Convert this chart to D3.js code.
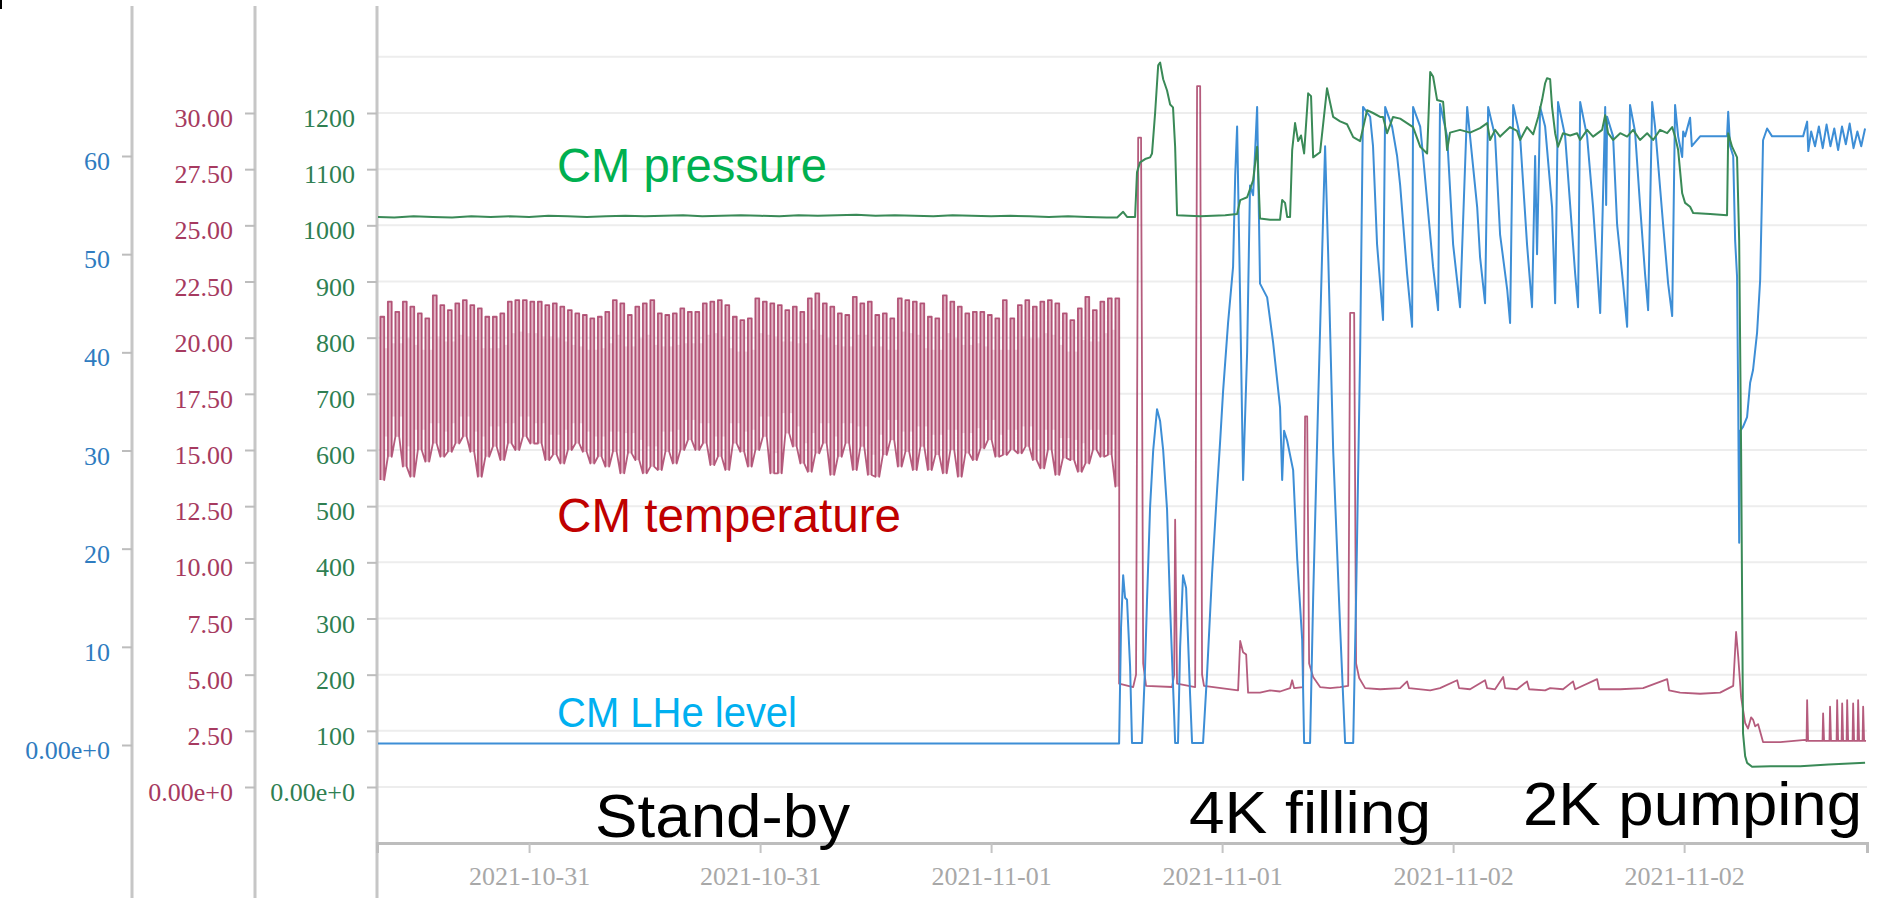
<!DOCTYPE html>
<html><head><meta charset="utf-8">
<script src="https://cdn.jsdelivr.net/npm/d3@7"></script>
<style>html,body{margin:0;padding:0;background:#fff;overflow:hidden}</style>
</head><body>
<svg id="chart" width="1878" height="898"></svg>
<script>
// ---------------- DATA ----------------
// times are hours after 2021-10-30 16:00
const timeOrigin = new Date(2021, 9, 30, 16, 0, 0);
const timeDomainHours = [0.1, 77.5];
const xTickLabels = ["2021-10-31", "2021-10-31", "2021-11-01", "2021-11-01", "2021-11-02", "2021-11-02"];

const pressureTicks = [0, 100, 200, 300, 400, 500, 600, 700, 800, 900, 1000, 1100, 1200];
const temperatureTicks = [0, 2.5, 5, 7.5, 10, 12.5, 15, 17.5, 20, 22.5, 25, 27.5, 30];
const levelTicks = [0, 10, 20, 30, 40, 50, 60];

// stand-by temperature cycles (one cycle every ~23 min)
const standbyCycleStart = 0.275;
const standbyCycleStep = 0.3896;
const tempStandbyHigh = [20.93, 21.60, 21.15, 21.60, 21.38, 21.08, 20.86, 21.88, 21.45, 21.23, 21.53, 21.67, 21.45, 21.30, 20.93, 20.93, 21.08, 21.60, 21.67, 21.67, 21.60, 21.60, 21.45, 21.53, 21.38, 21.23, 21.08, 21.01, 20.86, 20.93, 21.15, 21.67, 21.53, 21.01, 21.38, 21.53, 21.67, 21.08, 21.01, 21.08, 21.30, 21.15, 21.15, 21.53, 21.60, 21.67, 21.45, 20.93, 20.78, 20.86, 21.75, 21.60, 21.53,
  21.45, 21.23, 21.38, 21.15, 21.75, 21.97, 21.53, 21.38, 21.08, 21.01, 21.82, 21.53, 21.60, 21.01, 21.08, 20.86, 21.75, 21.67, 21.60, 21.53, 20.93, 20.86, 21.88, 21.60, 21.38, 21.08, 21.15, 21.15, 21.01, 20.86, 21.67, 20.86, 21.45, 21.67, 21.38, 21.60, 21.67, 21.53, 21.08, 20.78, 21.30, 21.82, 21.23, 21.60, 21.75, 21.75];
const tempStandbyLow = [13.66, 14.70, 15.59, 14.26, 13.81, 15.00, 14.48, 15.29, 14.70, 14.92, 15.29, 15.59, 14.92, 13.81, 14.70, 15.15, 14.55, 15.29, 15.00, 15.59, 15.29, 15.29, 14.55, 14.78, 14.40, 15.00, 15.29, 14.92, 14.40, 14.70, 14.26, 14.92, 13.96, 14.85, 14.55, 13.96, 14.26, 14.11, 14.92, 14.40, 15.00, 15.44, 15.00, 15.29, 14.33, 14.70, 14.11, 15.29, 14.92, 14.26, 15.00, 15.59, 13.96,
  13.96, 15.74, 15.15, 14.40, 14.03, 14.85, 15.29, 13.89, 14.70, 15.29, 14.11, 15.15, 13.89, 13.81, 14.78, 15.44, 14.26, 14.92, 14.11, 15.15, 14.11, 14.78, 13.96, 15.00, 13.81, 14.85, 14.55, 15.07, 15.44, 14.70, 14.78, 15.00, 14.85, 15.15, 14.55, 14.18, 15.00, 13.89, 14.63, 14.55, 14.03, 14.40, 15.00, 14.70, 14.78, 13.37];

// temperature after stand-by [hour, K]
const tempAfter = [[38.65,4.6],[39.38,4.45],[39.53,5.0],[39.64,28.9],[39.79,28.9],[39.90,5.5],[40.05,4.5],[41.40,4.45],[41.51,5.0],[41.56,11.9],[41.66,4.6],[42.60,4.45],[42.70,31.2],[42.86,31.2],[42.96,5.0],[43.06,4.5],[44.83,4.3],[44.94,6.5],[45.09,6.0],[45.25,5.9],[45.35,4.2],[45.97,4.2],[46.49,4.3],[47.01,4.25],[47.53,4.4],[47.64,4.75],[47.74,4.4],[48.21,4.45],[48.31,16.5],[48.42,16.5],[48.52,5.5],[48.73,4.9],[49.09,4.45],[49.61,4.4],[50.13,4.45],[50.55,4.5],[50.65,21.1],[50.86,21.1],[50.96,5.5],[51.12,4.85],[51.43,4.4],[52.21,4.35],[53.25,4.4],[53.61,4.7],[53.71,4.4],[54.81,4.3],[55.32,4.4],[56.21,4.75],[56.31,4.4],[56.88,4.35],[57.66,4.75],[57.77,4.4],[58.18,4.35],[58.60,4.9],[58.70,4.4],[59.32,4.35],[59.84,4.7],[59.95,4.35],[60.78,4.3],[61.04,4.4],[61.71,4.35],[62.23,4.7],[62.34,4.35],[63.48,4.8],[63.59,4.35],[64.68,4.35],[65.87,4.4],[67.12,4.8],[67.22,4.3],[67.79,4.2],[68.83,4.15],[69.87,4.2],[70.55,4.5],[70.70,6.9],[70.81,5.8],[70.96,4.0],[71.17,2.85],[71.32,2.6],[71.48,3.1],[71.58,3.0],[71.69,2.7],[71.84,2.8],[72.10,2.0],[72.99,2.0],[74.29,2.1],[74.36,2.05],[74.39,3.87],[74.44,2.05],[75.19,2.05],[75.22,3.28],[75.27,2.05],[75.55,2.05],[75.58,3.58],[75.63,2.05],[75.92,2.05],[75.95,3.87],[76.0,2.05],[76.18,2.05],[76.21,3.72],[76.26,2.05],[76.44,2.05],[76.47,3.87],[76.52,2.05],[76.75,2.05],[76.78,3.72],[76.83,2.05],[77.01,2.05],[77.04,3.87],[77.09,2.05],[77.27,2.05],[77.30,3.58],[77.35,2.05],[77.45,2.05]];

// LHe level [hour, %]
const levelSeries = [[0.1,0.15],[20,0.15],[38.65,0.15],[38.75,12],[38.86,17.3],[38.96,15],[39.06,14.8],[39.22,8],[39.32,0.2],[39.84,0.2],[40.0,8],[40.10,14.8],[40.26,24.3],[40.42,30],[40.62,34.2],[40.78,33],[40.94,30],[41.14,24],[41.30,14],[41.51,3],[41.56,0.2],[41.71,0.2],[41.82,10],[41.97,17.3],[42.13,16],[42.34,5],[42.44,0.2],[43.01,0.2],[43.22,7.3],[43.48,17.5],[43.74,26],[43.90,31],[44.05,36],[44.31,43],[44.57,48.7],[44.68,58],[44.78,63],[44.94,45],[45.09,27],[45.30,40],[45.45,57],[45.61,56],[45.82,65],[45.97,47],[46.34,45.6],[46.65,41],[47.01,34.4],[47.12,27],[47.22,32],[47.38,31],[47.69,28],[47.90,19],[48.16,10.7],[48.26,0.2],[48.57,0.2],[48.73,15],[48.99,35],[49.25,54],[49.35,61],[49.51,50],[49.77,30],[50.13,12],[50.39,0.2],[50.81,0.2],[50.96,15],[51.17,40],[51.32,65],[51.69,64],[51.84,61],[52.05,51],[52.31,44.6],[52.36,43.3],[52.47,65],[52.83,63],[53.09,60],[53.25,57],[53.61,48],[53.87,42.6],[53.92,65],[54.29,63],[54.44,60],[54.96,48.7],[55.22,44.3],[55.32,65.3],[55.69,62],[56.00,51],[56.36,44.6],[56.73,65],[56.88,62],[57.25,54.8],[57.40,49.7],[57.66,45],[57.82,65],[58.18,62],[58.44,52],[58.81,46.4],[58.96,43],[59.12,65.2],[59.48,62],[59.84,51],[60.10,44.6],[60.26,60],[60.36,50],[60.52,65],[60.78,63],[61.14,54.8],[61.30,45],[61.45,65.5],[61.82,62],[62.08,55],[62.34,48],[62.49,44.6],[62.60,65.5],[62.96,62],[63.27,54.8],[63.64,44],[63.90,65],[63.95,55],[64.0,64],[64.31,62],[64.52,53],[64.83,47],[65.04,42.6],[65.19,65.2],[65.45,62.5],[65.71,55],[65.97,48],[66.13,44.3],[66.34,65.5],[66.49,63],[66.91,53],[67.17,47],[67.38,43.7],[67.53,65.2],[67.69,62],[67.90,59.9],[67.95,62.5],[68.05,62],[68.31,63.9],[68.40,61],[68.83,62],[69.87,62],[70.23,62],[70.29,64.5],[70.39,61],[70.55,60],[70.65,51.4],[70.75,47.7],[70.81,35],[70.86,20.6],[70.91,32],[71.06,32.4],[71.27,33.4],[71.43,36.9],[71.58,38.2],[71.79,42],[71.95,47.4],[72.05,56.5],[72.10,61.6],[72.31,62.8],[72.57,62],[74.18,62],[74.39,63.5],[74.45,60.5],[74.6,62.5],[74.8,61],[75.0,63],[75.2,60.8],[75.4,63.2],[75.6,61],[75.8,62.8],[76.0,60.6],[76.2,63],[76.4,61.2],[76.6,63.3],[76.8,60.8],[77.0,62.5],[77.2,61],[77.4,62.8]];

// CM pressure [hour, mbar]
const pressureSeries = [[0.1,1015],[1,1014],[2,1016],[3,1015],[4,1014],[5,1016],[6,1015],[7,1016],[8,1015],[9,1017],[10,1016],[11,1015],[12,1016],[13,1017],[14,1016],[15,1017],[16,1018],[17,1016],[18,1017],[19,1018],[20,1017],[21,1016],[22,1018],[23,1017],[24,1018],[25,1019],[26,1017],[27,1018],[28,1017],[29,1016],[30,1018],[31,1017],[32,1016],[33,1017],[34,1016],[35,1015],[36,1016],[37,1015],[38,1014],[38.55,1014],[38.86,1024],[39.06,1015],[39.48,1015],[39.58,1095],[39.74,1112],[40.00,1118],[40.26,1121],[40.36,1128],[40.52,1200],[40.68,1285],[40.78,1290],[40.94,1260],[41.14,1240],[41.30,1215],[41.45,1210],[41.56,1140],[41.66,1018],[42.86,1016],[44.16,1018],[44.78,1020],[44.94,1045],[45.30,1050],[45.61,1080],[45.82,1140],[45.97,1012],[46.49,1010],[47.01,1010],[47.12,1045],[47.27,1040],[47.38,1015],[47.53,1015],[47.64,1134],[47.79,1182],[47.95,1150],[48.10,1160],[48.26,1128],[48.47,1235],[48.62,1230],[48.73,1121],[49.09,1130],[49.45,1244],[49.77,1193],[50.13,1185],[50.49,1180],[50.81,1157],[51.17,1150],[51.53,1205],[51.84,1200],[52.21,1193],[52.36,1193],[52.57,1164],[52.88,1193],[53.25,1190],[53.92,1175],[54.29,1140],[54.65,1128],[54.81,1273],[54.96,1265],[55.17,1223],[55.48,1220],[55.69,1134],[55.84,1165],[56.36,1170],[56.88,1165],[57.40,1173],[57.77,1182],[57.92,1152],[58.18,1170],[58.44,1158],[58.96,1175],[59.32,1168],[59.48,1152],[59.84,1175],[60.16,1162],[60.42,1193],[60.62,1223],[60.78,1253],[60.88,1262],[61.04,1260],[61.14,1211],[61.30,1164],[61.45,1140],[61.71,1164],[62.08,1160],[62.44,1164],[62.60,1152],[62.96,1170],[63.27,1158],[63.74,1170],[63.90,1196],[64.05,1164],[64.31,1152],[64.68,1164],[65.04,1158],[65.35,1170],[65.71,1152],[66.08,1164],[66.39,1152],[66.75,1170],[67.12,1164],[67.38,1175],[67.53,1158],[67.69,1134],[67.90,1057],[68.05,1040],[68.31,1033],[68.47,1022],[69.35,1020],[70.23,1018],[70.29,1164],[70.49,1140],[70.75,1121],[70.86,974],[70.96,600],[71.06,96],[71.17,55],[71.27,43],[71.53,36],[72.5,37],[74.03,37],[75.5,40],[77.4,43]];

const seriesLabels = ["CM pressure", "CM temperature", "CM LHe level"];
const phaseLabels = ["Stand-by", "4K filling", "2K pumping"];

// ---------------- CHART ----------------
const svg = d3.select('#chart');
const hToDate = h => new Date(timeOrigin.getTime() + h * 3600e3);
const plotLeft = 377, plotRight = 1867, axisBottom = 843;

const x = d3.scaleTime().domain(timeDomainHours.map(hToDate)).range([plotLeft, plotRight]);
const yP = d3.scaleLinear().domain([0, 1200]).range([787, 113]);
const yT = d3.scaleLinear().domain([0, 30]).range([787, 113]);
const yL = d3.scaleLinear().domain([0, 60]).range([745, 156]);

const serif = "'Liberation Serif','Times New Roman',serif";
const sans = "'Liberation Sans',Arial,sans-serif";

svg.append('rect').attr('x',0).attr('y',0).attr('width',2).attr('height',9).attr('fill','#000');

// gridlines
svg.append('g').selectAll('line').data(d3.range(0, 1301, 100)).join('line')
  .attr('x1', plotLeft).attr('x2', plotRight)
  .attr('y1', d => yP(d)).attr('y2', d => yP(d))
  .attr('stroke', '#ededed').attr('stroke-width', 2);

// vertical axis lines
svg.append('g').selectAll('line').data([132, 255, 377]).join('line')
  .attr('x1', d => d).attr('x2', d => d).attr('y1', 6).attr('y2', 898)
  .attr('stroke', '#c6c6c6').attr('stroke-width', 3);

function yAxis(scale, ticks, fmt, xPos, color) {
  const g = svg.append('g').attr('transform', `translate(${xPos},0)`)
    .call(d3.axisLeft(scale).tickValues(ticks).tickSize(10).tickPadding(12).tickFormat(fmt));
  g.select('.domain').remove();
  g.selectAll('.tick line').attr('stroke', '#bdbdbd').attr('stroke-width', 2);
  g.selectAll('.tick text').attr('fill', color).attr('font-family', serif)
    .attr('font-size', 26).attr('dy', '0.52em');
}
const zeroFmt = f => (d => d === 0 ? '0.00e+0' : f(d));
yAxis(yL, levelTicks, zeroFmt(d => String(d)), 132, '#2f7cc0');
yAxis(yT, temperatureTicks, zeroFmt(d => d.toFixed(2)), 255, '#a63a60');
yAxis(yP, pressureTicks, zeroFmt(d => String(d)), 377, '#2f7f52');

// x axis
const xTicks = x.ticks(d3.timeHour.every(12));
const gx = svg.append('g').attr('transform', `translate(0,${axisBottom})`)
  .call(d3.axisBottom(x).tickValues(xTicks).tickSize(10).tickPadding(14)
    .tickFormat((d, i) => xTickLabels[i] !== undefined ? xTickLabels[i] : d3.timeFormat('%Y-%m-%d')(d)));
gx.select('.domain').attr('stroke', '#bdbdbd').attr('stroke-width', 3);
gx.selectAll('.tick line').attr('stroke', '#c4c4c4').attr('stroke-width', 2);
gx.selectAll('.tick text').attr('fill', '#a8a8a8').attr('font-family', serif).attr('font-size', 26);

// clip
svg.append('clipPath').attr('id', 'plotclip').append('rect')
  .attr('x', plotLeft + 1).attr('y', 0).attr('width', plotRight - plotLeft).attr('height', axisBottom - 2);
const plot = svg.append('g').attr('clip-path', 'url(#plotclip)');

// temperature (stand-by: min/max band look)
const barW = 0.2;
const nCycles = Math.min(tempStandbyHigh.length, tempStandbyLow.length);
const cycles = d3.range(nCycles).map(i => ({
  t: standbyCycleStart + i * standbyCycleStep, hi: tempStandbyHigh[i], lo: tempStandbyLow[i]
}));
const gaps = cycles.slice(0, -1).map((c, i) => {
  const n = cycles[i + 1];
  return {t0: c.t + barW, t1: n.t, top: Math.min(c.hi, n.hi) - 1.4, bot: Math.max(c.lo, n.lo) + 0.9};
});
plot.append('g').selectAll('rect').data(gaps).join('rect')
  .attr('x', d => x(hToDate(d.t0))).attr('width', d => x(hToDate(d.t1)) - x(hToDate(d.t0)))
  .attr('y', d => yT(d.top)).attr('height', d => Math.max(0, yT(d.bot) - yT(d.top)))
  .attr('fill', '#f1dbe3');
plot.append('g').selectAll('rect').data(cycles).join('rect')
  .attr('x', d => x(hToDate(d.t))).attr('width', d => x(hToDate(d.t + barW)) - x(hToDate(d.t)))
  .attr('y', d => yT(d.hi)).attr('height', d => yT(d.lo) - yT(d.hi))
  .attr('fill', '#e2b5c5');
const tempPoints = [];
cycles.forEach(c => {
  tempPoints.push([c.t, c.lo], [c.t, c.hi], [c.t + barW, c.hi], [c.t + barW, c.lo]);
});
tempAfter.forEach(p => tempPoints.push(p));

const lineOf = ys => d3.line().x(d => x(hToDate(d[0]))).y(d => ys(d[1]));
plot.append('path').datum(tempPoints).attr('d', lineOf(yT))
  .attr('fill', 'none').attr('stroke', '#a3335c').attr('stroke-width', 1.8).attr('stroke-opacity', 0.8)
  .attr('stroke-linejoin', 'round');

// level
plot.append('path').datum(levelSeries).attr('d', lineOf(yL))
  .attr('fill', 'none').attr('stroke', '#3d8ed6').attr('stroke-width', 2).attr('stroke-linejoin', 'round');

// pressure
plot.append('path').datum(pressureSeries).attr('d', lineOf(yP))
  .attr('fill', 'none').attr('stroke', '#3a8a57').attr('stroke-width', 2).attr('stroke-linejoin', 'round');

// annotations
const ann = [
  {text: seriesLabels[0], x: 557, y: 182, size: 48, len: 270, color: '#00b050'},
  {text: seriesLabels[1], x: 557, y: 532, size: 48, len: 344, color: '#c00000'},
  {text: seriesLabels[2], x: 557, y: 727, size: 42, len: 240, color: '#00b0f0'},
  {text: phaseLabels[0], x: 595, y: 837, size: 62, len: 255, color: '#000'},
  {text: phaseLabels[1], x: 1189, y: 833, size: 60, len: 242, color: '#000'},
  {text: phaseLabels[2], x: 1523, y: 825, size: 62, len: 339, color: '#000'}
];
svg.append('g').selectAll('text').data(ann).join('text')
  .attr('x', d => d.x).attr('y', d => d.y).attr('font-family', sans).attr('font-size', d => d.size)
  .attr('fill', d => d.color).attr('textLength', d => d.len).attr('lengthAdjust', 'spacingAndGlyphs')
  .text(d => d.text);
</script>
</body></html>
